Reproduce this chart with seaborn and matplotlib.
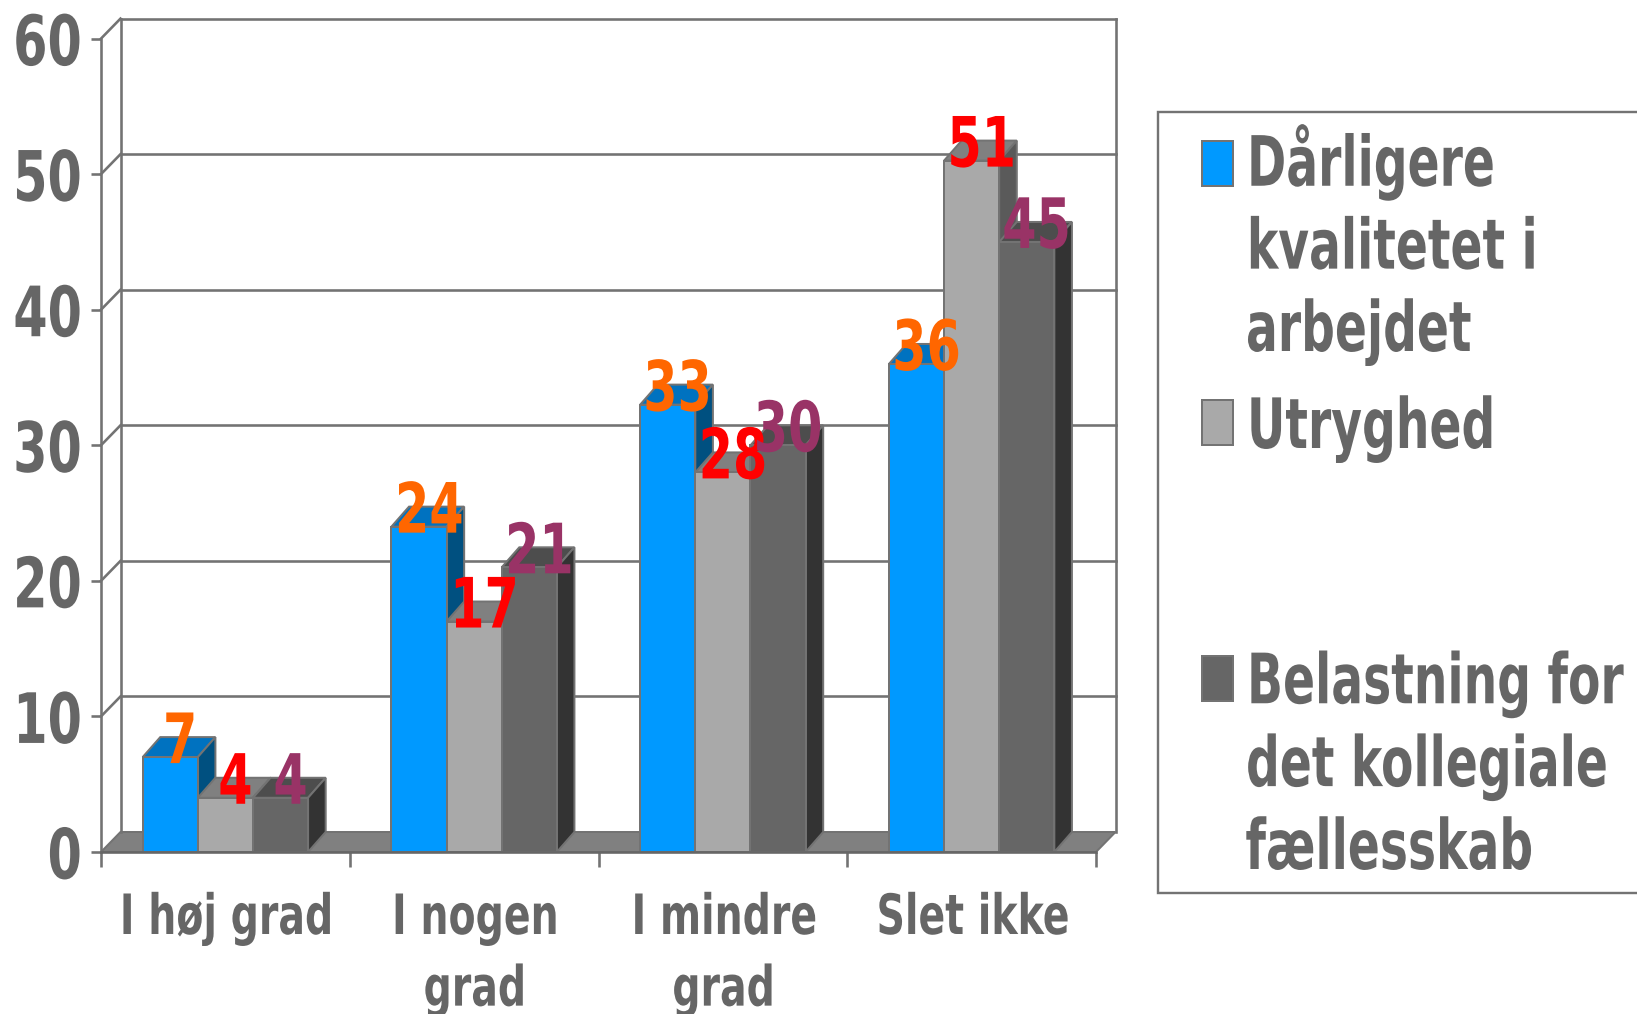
import matplotlib
matplotlib.use('Agg')
import matplotlib.pyplot as plt
import matplotlib.patheffects as pe
from matplotlib.patches import Polygon, Rectangle
from matplotlib.transforms import Affine2D
import pandas as pd
import seaborn as sns

# data
categories = ['I høj grad', 'I nogen\ngrad', 'I mindre\ngrad', 'Slet ikke']
series_names = ['Dårligere\nkvalitetet i\narbejdet', 'Utryghed', 'Belastning for\ndet kollegiale\nfællesskab']
kvalitet = [7, 24, 33, 36]
utryghed = [4, 17, 28, 51]
belastning = [4, 21, 30, 45]
y_ticks = [0, 10, 20, 30, 40, 50, 60]

# front, top and side shade of each series, then the label colour
front_colors = ['#0099FF', '#A9A9A9', '#666666']
top_colors = ['#0072C0', '#808080', '#4D4D4D']
side_colors = ['#005080', '#5A5A5A', '#333333']
label_colors = ['#FF6600', '#FF0000', '#993366']
GREY = '#666666'
LINE = '#737373'

W, H = 1637, 1014
DPI = 100
PX = 72 / DPI  # one pixel in points


class Squeeze(pe.AbstractPathEffect):
    '''Narrows drawn text, the reference has its type stretched out of shape.'''

    def __init__(self, sx, anchor='center', shift=0):
        super().__init__()
        self.sx = sx
        self.anchor = anchor
        self.shift = shift

    def draw_path(self, renderer, gc, tpath, affine, rgbFace=None):
        box = tpath.get_extents(affine)
        x = {'left': box.x0, 'center': (box.x0 + box.x1) / 2, 'right': box.x1}[self.anchor]
        squeezed = affine + Affine2D().translate(-x, 0).scale(self.sx, 1).translate(x + self.shift, 0)
        renderer.draw_path(gc, tpath, squeezed, rgbFace)


sns.set_theme(style='white')
plt.rcParams['font.family'] = ['DejaVu Sans']
plt.rcParams['font.weight'] = 'bold'

fig = plt.figure(figsize=(W / DPI, H / DPI), dpi=DPI, facecolor='white')
ax = fig.add_axes([101 / W, (H - 852) / H, 995 / W, 813.4 / H])

table = pd.DataFrame({
    'category': categories * 3,
    'series': [name for name in series_names for _ in categories],
    'value': kvalitet + utryghed + belastning,
})
sns.barplot(data=table, x='category', y='value', hue='series', hue_order=series_names,
            palette=front_colors, width=0.665, gap=0, saturation=1, legend=False,
            edgecolor=LINE, linewidth=2 * PX, ax=ax)

ax.set_xlim(-0.5, 3.5)
ax.set_ylim(0, 60)
ax.patch.set_visible(False)
ax.set(xlabel='', ylabel='')

# depth of the 3d look, in data units
wall_dx = 19.5 / (995 / 4)
wall_dy = 20 / (813.4 / 60)
bar_dx = 17.6 / (995 / 4)
bar_dy = 20 / (813.4 / 60)
x0, x1 = ax.get_xlim()
wall_style = dict(color=LINE, lw=2.6 * PX, clip_on=False, zorder=1, solid_capstyle='projecting')

ax.add_patch(Polygon([(x0, 0), (x1, 0), (x1 + wall_dx, wall_dy), (x0 + wall_dx, wall_dy)],
                     facecolor='#808080', edgecolor=LINE, lw=2 * PX, clip_on=False, zorder=1))
for v in y_ticks[1:]:
    ax.plot([x0 + wall_dx, x1 + wall_dx], [v + wall_dy, v + wall_dy], **wall_style)
    ax.plot([x0, x0 + wall_dx], [v, v + wall_dy], **wall_style)
for x in [x0 + wall_dx, x1 + wall_dx]:
    ax.plot([x, x], [wall_dy, 60 + wall_dy], **wall_style)

# bar tops, sides and value labels
for i, (bars, values) in enumerate(zip(ax.containers, [kvalitet, utryghed, belastning])):
    for bar, value in zip(bars, values):
        left = bar.get_x()
        right = left + bar.get_width()
        bar.set_zorder(3 + i + 0.5)
        ax.add_patch(Polygon([(left, value), (right, value), (right + bar_dx, value + bar_dy),
                              (left + bar_dx, value + bar_dy)],
                             facecolor=top_colors[i], edgecolor=LINE, lw=2 * PX, clip_on=False, zorder=3 + i))
        ax.add_patch(Polygon([(right, 0), (right + bar_dx, bar_dy), (right + bar_dx, value + bar_dy),
                              (right, value)],
                             facecolor=side_colors[i], edgecolor=LINE, lw=2 * PX, clip_on=False, zorder=3 + i))
        label = ax.annotate(str(value), (left + bar.get_width() / 2, value), xytext=(10, -6),
                            textcoords='offset pixels', ha='center', va='baseline',
                            fontsize=50, color=label_colors[i], zorder=10, annotation_clip=False)
        label.set_path_effects([Squeeze(0.71)])

# axes
sns.despine(ax=ax, top=True, right=True)
for name in ['left', 'bottom']:
    ax.spines[name].set_color(GREY if name == 'bottom' else LINE)
    ax.spines[name].set_linewidth(2.6 * PX)
    ax.spines[name].set_zorder(8 if name == 'bottom' else 1)
ax.set_yticks(y_ticks)
ax.tick_params(axis='y', length=10 * PX, width=2.6 * PX, color=LINE, pad=8 * PX, labelsize=50, labelcolor=GREY, left=True)
ax.set_xticks(range(len(categories)))
ax.set_xticklabels(categories, linespacing=1.42)
ax.set_xticks([c - 0.5 for c in range(len(categories) + 1)], minor=True)
ax.tick_params(axis='x', which='major', length=0, pad=40 * PX, labelsize=40, labelcolor=GREY)
ax.tick_params(axis='x', which='minor', length=15 * PX, width=2.6 * PX, color=LINE, bottom=True)
for t in ax.get_yticklabels():
    t.set_path_effects([Squeeze(0.71, 'right')])
for t in ax.get_xticklabels():
    t.set_path_effects([Squeeze(0.71, shift=1)])

# legend
fig.add_artist(Rectangle((1158 / W, (H - 893) / H), 600 / W, 781 / H, transform=fig.transFigure,
                         facecolor='white', edgecolor=LINE, lw=2.4 * PX))
handle_tops = [141, 400, 656]
last_baselines = [351, 448, 869]
for name, color, top, base in zip(series_names, front_colors, handle_tops, last_baselines):
    fig.add_artist(Rectangle((1202 / W, (H - top - 45) / H), 31 / W, 45 / H, transform=fig.transFigure,
                             facecolor=color, edgecolor=LINE, lw=2 * PX))
    text = fig.text(1245 / W, (H - base) / H, name, fontsize=50, color=GREY, ha='left', va='baseline',
                    linespacing=1.29)
    text.set_path_effects([Squeeze(0.68, 'left')])

fig.savefig('out.png', dpi=DPI, facecolor='white')
